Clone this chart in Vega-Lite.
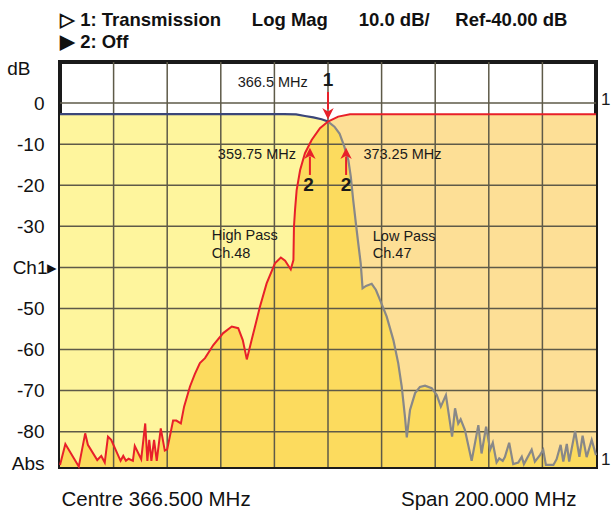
{
  "$schema": "https://vega.github.io/schema/vega-lite/v6.json",
  "width": 536,
  "height": 405,
  "autosize": {"type": "none"},
  "padding": {"left": 60, "top": 62, "right": 17, "bottom": 45},
  "background": "white",
  "config": {
    "view": {"stroke": "#1a1a1a", "strokeWidth": 4},
    "font": "Liberation Sans"
  },
  "title": {
    "text": "▷ 1: Transmission\u00a0\u00a0\u00a0\u00a0\u00a0\u00a0Log Mag\u00a0\u00a0\u00a0\u00a0\u00a0\u00a010.0 dB/\u00a0\u00a0\u00a0\u00a0\u00a0Ref-40.00 dB",
    "subtitle": "▶ 2: Off",
    "anchor": "start",
    "frame": "group",
    "font": "Liberation Sans",
    "fontSize": 18.5,
    "fontWeight": "bold",
    "color": "#111111",
    "subtitleFont": "Liberation Sans",
    "subtitleFontSize": 18.5,
    "subtitleFontWeight": "bold",
    "subtitleColor": "#111111",
    "subtitlePadding": 3,
    "offset": 8
  },
  "datasets": {
    "vgrid": [
      {"f": 286.5, "db": 10, "db2": -88.6},
      {"f": 306.5, "db": 10, "db2": -88.6},
      {"f": 326.5, "db": 10, "db2": -88.6},
      {"f": 346.5, "db": 10, "db2": -88.6},
      {"f": 366.5, "db": 10, "db2": -88.6},
      {"f": 386.5, "db": 10, "db2": -88.6},
      {"f": 406.5, "db": 10, "db2": -88.6},
      {"f": 426.5, "db": 10, "db2": -88.6},
      {"f": 446.5, "db": 10, "db2": -88.6}
    ],
    "hgrid": [
      {"f": 266.5, "f2": 466.5, "db": 0},
      {"f": 266.5, "f2": 466.5, "db": -10},
      {"f": 266.5, "f2": 466.5, "db": -20},
      {"f": 266.5, "f2": 466.5, "db": -30},
      {"f": 266.5, "f2": 466.5, "db": -40},
      {"f": 266.5, "f2": 466.5, "db": -50},
      {"f": 266.5, "f2": 466.5, "db": -60},
      {"f": 266.5, "f2": 466.5, "db": -70},
      {"f": 266.5, "f2": 466.5, "db": -80}
    ],
    "lp": [
      {"f": 266.5, "db": -2.7, "seg": "pass"},
      {"f": 350.0, "db": -2.7, "seg": "pass"},
      {"f": 354.6, "db": -2.75, "seg": "pass"},
      {"f": 357.9, "db": -3.15, "seg": "pass"},
      {"f": 361.0, "db": -3.5, "seg": "pass"},
      {"f": 364.1, "db": -3.95, "seg": "pass"},
      {"f": 366.5, "db": -4.5, "seg": "pass"},
      {"f": 366.5, "db": -4.5, "seg": "stop"},
      {"f": 368.9, "db": -5.75, "seg": "stop"},
      {"f": 370.8, "db": -7.4, "seg": "stop"},
      {"f": 372.6, "db": -10.6, "seg": "stop"},
      {"f": 374.1, "db": -13.9, "seg": "stop"},
      {"f": 375.0, "db": -17.9, "seg": "stop"},
      {"f": 375.9, "db": -23.6, "seg": "stop"},
      {"f": 376.9, "db": -29.3, "seg": "stop"},
      {"f": 377.8, "db": -34.2, "seg": "stop"},
      {"f": 378.7, "db": -39.0, "seg": "stop"},
      {"f": 379.4, "db": -45.1, "seg": "stop"},
      {"f": 380.7, "db": -44.5, "seg": "stop"},
      {"f": 382.8, "db": -44.0, "seg": "stop"},
      {"f": 384.4, "db": -45.5, "seg": "stop"},
      {"f": 385.9, "db": -47.9, "seg": "stop"},
      {"f": 388.4, "db": -52.0, "seg": "stop"},
      {"f": 390.9, "db": -57.7, "seg": "stop"},
      {"f": 392.7, "db": -63.3, "seg": "stop"},
      {"f": 394.0, "db": -69.0, "seg": "stop"},
      {"f": 395.2, "db": -76.3, "seg": "stop"},
      {"f": 395.9, "db": -81.4, "seg": "stop"},
      {"f": 397.1, "db": -74.7, "seg": "stop"},
      {"f": 399.0, "db": -70.6, "seg": "stop"},
      {"f": 400.8, "db": -69.1, "seg": "stop"},
      {"f": 402.7, "db": -68.8, "seg": "stop"},
      {"f": 405.2, "db": -69.4, "seg": "stop"},
      {"f": 407.1, "db": -71.1, "seg": "stop"},
      {"f": 408.6, "db": -73.9, "seg": "stop"},
      {"f": 410.5, "db": -71.1, "seg": "stop"},
      {"f": 412.8, "db": -81.2, "seg": "stop"},
      {"f": 413.9, "db": -74.3, "seg": "stop"},
      {"f": 415.1, "db": -78.0, "seg": "stop"},
      {"f": 416.0, "db": -77.0, "seg": "stop"},
      {"f": 417.6, "db": -79.6, "seg": "stop"},
      {"f": 420.1, "db": -87.1, "seg": "stop"},
      {"f": 422.6, "db": -78.4, "seg": "stop"},
      {"f": 423.8, "db": -85.3, "seg": "stop"},
      {"f": 425.5, "db": -78.8, "seg": "stop"},
      {"f": 427.0, "db": -84.4, "seg": "stop"},
      {"f": 428.0, "db": -82.7, "seg": "stop"},
      {"f": 429.4, "db": -87.5, "seg": "stop"},
      {"f": 430.4, "db": -86.5, "seg": "stop"},
      {"f": 431.7, "db": -87.1, "seg": "stop"},
      {"f": 432.5, "db": -86.2, "seg": "stop"},
      {"f": 434.1, "db": -82.7, "seg": "stop"},
      {"f": 435.6, "db": -87.9, "seg": "stop"},
      {"f": 437.5, "db": -87.5, "seg": "stop"},
      {"f": 438.8, "db": -86.1, "seg": "stop"},
      {"f": 439.6, "db": -87.9, "seg": "stop"},
      {"f": 442.5, "db": -84.4, "seg": "stop"},
      {"f": 443.7, "db": -87.3, "seg": "stop"},
      {"f": 445.6, "db": -85.7, "seg": "stop"},
      {"f": 446.8, "db": -84.4, "seg": "stop"},
      {"f": 447.8, "db": -88.1, "seg": "stop"},
      {"f": 450.6, "db": -88.1, "seg": "stop"},
      {"f": 451.8, "db": -86.7, "seg": "stop"},
      {"f": 453.3, "db": -83.2, "seg": "stop"},
      {"f": 454.3, "db": -87.3, "seg": "stop"},
      {"f": 455.6, "db": -83.0, "seg": "stop"},
      {"f": 456.5, "db": -87.3, "seg": "stop"},
      {"f": 458.7, "db": -79.8, "seg": "stop"},
      {"f": 460.3, "db": -86.1, "seg": "stop"},
      {"f": 461.5, "db": -81.0, "seg": "stop"},
      {"f": 463.0, "db": -86.2, "seg": "stop"},
      {"f": 464.9, "db": -82.0, "seg": "stop"},
      {"f": 466.5, "db": -85.7, "seg": "stop"}
    ],
    "hp": [
      {"f": 266.5, "db": -88.1},
      {"f": 268.5, "db": -83.0},
      {"f": 273.5, "db": -88.5},
      {"f": 275.9, "db": -80.4},
      {"f": 276.9, "db": -83.2},
      {"f": 280.4, "db": -86.9},
      {"f": 281.9, "db": -85.9},
      {"f": 283.2, "db": -87.5},
      {"f": 284.4, "db": -81.2},
      {"f": 285.6, "db": -82.0},
      {"f": 289.1, "db": -87.1},
      {"f": 290.1, "db": -85.9},
      {"f": 291.1, "db": -87.1},
      {"f": 292.1, "db": -86.6},
      {"f": 293.7, "db": -87.1},
      {"f": 294.4, "db": -83.5},
      {"f": 296.8, "db": -86.7},
      {"f": 298.3, "db": -78.0},
      {"f": 299.1, "db": -87.1},
      {"f": 299.8, "db": -82.0},
      {"f": 300.6, "db": -87.1},
      {"f": 301.6, "db": -82.0},
      {"f": 302.6, "db": -87.1},
      {"f": 304.1, "db": -79.2},
      {"f": 305.6, "db": -84.6},
      {"f": 306.5, "db": -84.3},
      {"f": 308.7, "db": -77.3},
      {"f": 309.9, "db": -77.3},
      {"f": 311.6, "db": -78.0},
      {"f": 312.8, "db": -73.9},
      {"f": 315.0, "db": -69.0},
      {"f": 316.8, "db": -66.0},
      {"f": 318.7, "db": -63.3},
      {"f": 320.6, "db": -62.1},
      {"f": 323.7, "db": -58.9},
      {"f": 327.4, "db": -56.0},
      {"f": 330.6, "db": -54.4},
      {"f": 333.0, "db": -54.8},
      {"f": 334.7, "db": -57.7},
      {"f": 336.2, "db": -62.4},
      {"f": 338.0, "db": -57.7},
      {"f": 341.1, "db": -49.6},
      {"f": 343.6, "db": -43.9},
      {"f": 346.7, "db": -39.0},
      {"f": 348.9, "db": -37.6},
      {"f": 350.5, "db": -38.4},
      {"f": 352.6, "db": -40.5},
      {"f": 353.6, "db": -38.2},
      {"f": 353.8, "db": -30.1},
      {"f": 354.2, "db": -26.0},
      {"f": 354.8, "db": -21.2},
      {"f": 356.1, "db": -16.3},
      {"f": 357.9, "db": -12.2},
      {"f": 360.4, "db": -9.0},
      {"f": 363.5, "db": -6.1},
      {"f": 366.5, "db": -4.5},
      {"f": 370.3, "db": -3.3},
      {"f": 374.7, "db": -2.7},
      {"f": 466.5, "db": -2.7}
    ],
    "both": [
      {"f": 266.5, "db": -88.1},
      {"f": 268.5, "db": -83.0},
      {"f": 273.5, "db": -88.5},
      {"f": 275.9, "db": -80.4},
      {"f": 276.9, "db": -83.2},
      {"f": 280.4, "db": -86.9},
      {"f": 281.9, "db": -85.9},
      {"f": 283.2, "db": -87.5},
      {"f": 284.4, "db": -81.2},
      {"f": 285.6, "db": -82.0},
      {"f": 289.1, "db": -87.1},
      {"f": 290.1, "db": -85.9},
      {"f": 291.1, "db": -87.1},
      {"f": 292.1, "db": -86.6},
      {"f": 293.7, "db": -87.1},
      {"f": 294.4, "db": -83.5},
      {"f": 296.8, "db": -86.7},
      {"f": 298.3, "db": -78.0},
      {"f": 299.1, "db": -87.1},
      {"f": 299.8, "db": -82.0},
      {"f": 300.6, "db": -87.1},
      {"f": 301.6, "db": -82.0},
      {"f": 302.6, "db": -87.1},
      {"f": 304.1, "db": -79.2},
      {"f": 305.6, "db": -84.6},
      {"f": 306.5, "db": -84.3},
      {"f": 308.7, "db": -77.3},
      {"f": 309.9, "db": -77.3},
      {"f": 311.6, "db": -78.0},
      {"f": 312.8, "db": -73.9},
      {"f": 315.0, "db": -69.0},
      {"f": 316.8, "db": -66.0},
      {"f": 318.7, "db": -63.3},
      {"f": 320.6, "db": -62.1},
      {"f": 323.7, "db": -58.9},
      {"f": 327.4, "db": -56.0},
      {"f": 330.6, "db": -54.4},
      {"f": 333.0, "db": -54.8},
      {"f": 334.7, "db": -57.7},
      {"f": 336.2, "db": -62.4},
      {"f": 338.0, "db": -57.7},
      {"f": 341.1, "db": -49.6},
      {"f": 343.6, "db": -43.9},
      {"f": 346.7, "db": -39.0},
      {"f": 348.9, "db": -37.6},
      {"f": 350.5, "db": -38.4},
      {"f": 352.6, "db": -40.5},
      {"f": 353.6, "db": -38.2},
      {"f": 353.8, "db": -30.1},
      {"f": 354.2, "db": -26.0},
      {"f": 354.8, "db": -21.2},
      {"f": 356.1, "db": -16.3},
      {"f": 357.9, "db": -12.2},
      {"f": 360.4, "db": -9.0},
      {"f": 363.5, "db": -6.1},
      {"f": 366.5, "db": -4.5},
      {"f": 368.9, "db": -5.75},
      {"f": 370.8, "db": -7.4},
      {"f": 372.6, "db": -10.6},
      {"f": 374.1, "db": -13.9},
      {"f": 375.0, "db": -17.9},
      {"f": 375.9, "db": -23.6},
      {"f": 376.9, "db": -29.3},
      {"f": 377.8, "db": -34.2},
      {"f": 378.7, "db": -39.0},
      {"f": 379.4, "db": -45.1},
      {"f": 380.7, "db": -44.5},
      {"f": 382.8, "db": -44.0},
      {"f": 384.4, "db": -45.5},
      {"f": 385.9, "db": -47.9},
      {"f": 388.4, "db": -52.0},
      {"f": 390.9, "db": -57.7},
      {"f": 392.7, "db": -63.3},
      {"f": 394.0, "db": -69.0},
      {"f": 395.2, "db": -76.3},
      {"f": 395.9, "db": -81.4},
      {"f": 397.1, "db": -74.7},
      {"f": 399.0, "db": -70.6},
      {"f": 400.8, "db": -69.1},
      {"f": 402.7, "db": -68.8},
      {"f": 405.2, "db": -69.4},
      {"f": 407.1, "db": -71.1},
      {"f": 408.6, "db": -73.9},
      {"f": 410.5, "db": -71.1},
      {"f": 412.8, "db": -81.2},
      {"f": 413.9, "db": -74.3},
      {"f": 415.1, "db": -78.0},
      {"f": 416.0, "db": -77.0},
      {"f": 417.6, "db": -79.6},
      {"f": 420.1, "db": -87.1},
      {"f": 422.6, "db": -78.4},
      {"f": 423.8, "db": -85.3},
      {"f": 425.5, "db": -78.8},
      {"f": 427.0, "db": -84.4},
      {"f": 428.0, "db": -82.7},
      {"f": 429.4, "db": -87.5},
      {"f": 430.4, "db": -86.5},
      {"f": 431.7, "db": -87.1},
      {"f": 432.5, "db": -86.2},
      {"f": 434.1, "db": -82.7},
      {"f": 435.6, "db": -87.9},
      {"f": 437.5, "db": -87.5},
      {"f": 438.8, "db": -86.1},
      {"f": 439.6, "db": -87.9},
      {"f": 442.5, "db": -84.4},
      {"f": 443.7, "db": -87.3},
      {"f": 445.6, "db": -85.7},
      {"f": 446.8, "db": -84.4},
      {"f": 447.8, "db": -88.1},
      {"f": 450.6, "db": -88.1},
      {"f": 451.8, "db": -86.7},
      {"f": 453.3, "db": -83.2},
      {"f": 454.3, "db": -87.3},
      {"f": 455.6, "db": -83.0},
      {"f": 456.5, "db": -87.3},
      {"f": 458.7, "db": -79.8},
      {"f": 460.3, "db": -86.1},
      {"f": 461.5, "db": -81.0},
      {"f": 463.0, "db": -86.2},
      {"f": 464.9, "db": -82.0},
      {"f": 466.5, "db": -85.7}
    ],
    "notesR": [
      {"f": 358.96, "db": 4.9, "t": "366.5 MHz"},
      {"f": 354.56, "db": -12.6, "t": "359.75 MHz"}
    ],
    "notesL": [
      {"f": 379.7, "db": -12.6, "t": "373.25 MHz"},
      {"f": 323.1, "db": -32.4, "t": "High Pass"},
      {"f": 323.1, "db": -36.8, "t": "Ch.48"},
      {"f": 383.2, "db": -32.5, "t": "Low Pass"},
      {"f": 383.2, "db": -36.8, "t": "Ch.47"}
    ],
    "bold": [
      {"f": 366.5, "db": 5.6, "t": "1"},
      {"f": 359.2, "db": -19.9, "t": "2"},
      {"f": 373.25, "db": -19.9, "t": "2"}
    ],
    "edge": [
      {"f": 466.5, "db": 0.7, "t": "1"},
      {"f": 466.5, "db": -86.9, "t": "1"}
    ],
    "shafts": [
      {"f": 366.5, "db": 2.7, "db2": -1.5},
      {"f": 359.75, "db": -13.0, "db2": -17.5},
      {"f": 373.25, "db": -13.0, "db2": -17.5}
    ],
    "headsDown": [
      {"f": 366.5, "db": -2.6}
    ],
    "headsUp": [
      {"f": 359.75, "db": -12.25},
      {"f": 373.25, "db": -12.25}
    ]
  },
  "encoding": {
    "x": {
      "field": "f",
      "type": "quantitative",
      "scale": {"domain": [266.5, 466.5], "nice": false, "zero": false},
      "axis": {
        "title": null,
        "values": [266.5, 466.5],
        "grid": false,
        "domain": false,
        "ticks": false,
        "labelExpr": "datum.value < 267 ? 'Centre 366.500 MHz' : 'Span 200.000 MHz'",
        "labelFlush": true,
        "labelFlushOffset": 0,
        "labelOffset": {"condition": {"test": "datum.value > 466", "value": -20}, "value": 1},
        "labelOverlap": false,
        "labelLimit": 400,
        "labelPadding": 22,
        "labelFontSize": 20.5,
        "labelFont": "Liberation Sans",
        "labelColor": "#111111"
      }
    },
    "y": {
      "field": "db",
      "type": "quantitative",
      "scale": {"domain": [-88.6, 10], "nice": false, "zero": false},
      "axis": {
        "title": null,
        "values": [10, 0, -10, -20, -30, -40, -50, -60, -70, -80, -88.6],
        "grid": false,
        "domain": false,
        "ticks": false,
        "labelExpr": "datum.value == 10 ? 'dB' : (datum.value == -40 ? 'Ch1▸' : (datum.value < -85 ? 'Abs' : '' + datum.value))",
        "labelFont": "Liberation Sans",
        "labelFontSize": 19,
        "labelColor": "#111111",
        "labelAlign": "right",
        "labelBaseline": "middle",
        "labelOverlap": false,
        "labelBound": false,
        "labelOffset": {"condition": [{"test": "datum.value == 10", "value": 6}, {"test": "datum.value < -85", "value": -4}], "value": 0},
        "labelPadding": {"condition": [{"test": "datum.value == 10", "value": 30}, {"test": "datum.value == -40", "value": 3}], "value": 16}
      }
    }
  },
  "layer": [
    {
      "data": {"name": "lp"},
      "mark": {"type": "area", "color": "#FEF59D", "opacity": 1},
      "encoding": {"y2": {"datum": -88.6}}
    },
    {
      "data": {"name": "hp"},
      "mark": {"type": "area", "color": "#FDDF96", "opacity": 1},
      "encoding": {"y2": {"datum": -88.6}}
    },
    {
      "data": {"name": "both"},
      "mark": {"type": "area", "color": "#FCDB5E", "opacity": 1},
      "encoding": {"y2": {"datum": -88.6}}
    },
    {
      "data": {"name": "vgrid"},
      "mark": {"type": "rule", "color": "#5e5a48", "opacity": 1, "strokeWidth": 1.5},
      "encoding": {"y2": {"field": "db2"}}
    },
    {
      "data": {"name": "hgrid"},
      "mark": {"type": "rule", "color": "#5e5a48", "opacity": 1, "strokeWidth": 1.5},
      "encoding": {"x2": {"field": "f2"}}
    },
    {
      "data": {"name": "lp"},
      "mark": {"type": "line", "strokeWidth": 2.2},
      "encoding": {
        "color": {"field": "seg", "type": "nominal", "scale": {"domain": ["pass", "stop"], "range": ["#3b4679", "#888888"]}, "legend": null}
      }
    },
    {
      "data": {"name": "hp"},
      "mark": {"type": "line", "strokeWidth": 2, "color": "#E8202A"},
      "encoding": {}
    },
    {
      "data": {"name": "shafts"},
      "mark": {"type": "rule", "color": "#E8202A", "strokeWidth": 2},
      "encoding": {"y2": {"field": "db2"}}
    },
    {
      "data": {"name": "headsDown"},
      "mark": {"type": "point", "shape": "M0,1L-1,-1L0,-0.4L1,-1Z", "size": 130, "filled": true, "color": "#E8202A", "opacity": 1},
      "encoding": {}
    },
    {
      "data": {"name": "headsUp"},
      "mark": {"type": "point", "shape": "M0,-1L-1,1L0,0.4L1,1Z", "size": 130, "filled": true, "color": "#E8202A", "opacity": 1},
      "encoding": {}
    },
    {
      "data": {"name": "notesR"},
      "mark": {"type": "text", "align": "right", "baseline": "middle", "fontSize": 14.5, "font": "Liberation Sans", "color": "#1a1a1a"},
      "encoding": {"text": {"field": "t"}}
    },
    {
      "data": {"name": "notesL"},
      "mark": {"type": "text", "align": "left", "baseline": "middle", "fontSize": 14.5, "font": "Liberation Sans", "color": "#1a1a1a"},
      "encoding": {"text": {"field": "t"}}
    },
    {
      "data": {"name": "bold"},
      "mark": {"type": "text", "align": "center", "baseline": "middle", "fontSize": 19, "fontWeight": "bold", "font": "Liberation Sans", "color": "#1a1a1a"},
      "encoding": {"text": {"field": "t"}}
    },
    {
      "data": {"name": "edge"},
      "mark": {"type": "text", "align": "left", "baseline": "middle", "dx": 5, "fontSize": 17, "font": "Liberation Sans", "color": "#1a1a1a", "clip": false},
      "encoding": {"text": {"field": "t"}}
    }
  ]
}
